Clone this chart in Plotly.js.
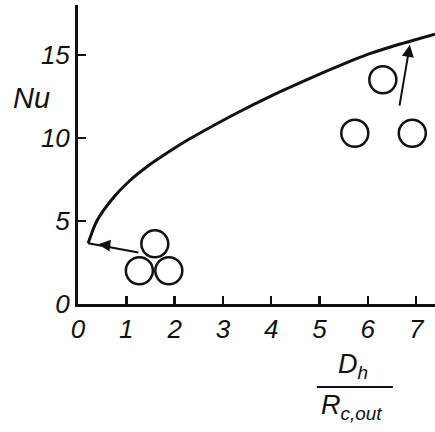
<!DOCTYPE html>
<html>
<head>
<meta charset="utf-8">
<script src="https://cdn.plot.ly/plotly-3.0.1.min.js"></script>
<style>
  html, body { margin: 0; padding: 0; background: #fff; }
  #chart { width: 435px; height: 432px; }
</style>
</head>
<body>
<div id="chart"></div>
<script>
// curve Nu vs Dh/Rc,out
const curveX = [0.21, 0.39, 0.73, 1.08, 1.42, 1.77, 2.2, 2.59, 3.29, 3.98, 4.66, 5.29, 5.97, 6.67, 7.39];
const curveY = [3.66, 5.0, 6.4, 7.45, 8.25, 8.95, 9.75, 10.4, 11.5, 12.5, 13.4, 14.2, 15.0, 15.65, 16.25];

// rod bundle sketches drawn as open circles
const triX = [1.59, 1.27, 1.88];
const triY = [3.62, 2.0, 2.0];
const rowX = [6.31, 5.73, 6.92];
const rowY = [13.5, 10.28, 10.28];

// arrow from the triangle bundle to the curve start
const arrow1X = [1.25, 0.21];
const arrow1Y = [3.1, 3.66];

const xTicks = [0, 1, 2, 3, 4, 5, 6, 7];
const yTicks = [0, 5, 10, 15];

const font = { family: "Liberation Sans, Arial, sans-serif", color: "#111", style: "italic" };

const circle = (x, y) => ({
  type: "scatter",
  mode: "markers",
  x, y,
  marker: { symbol: "circle-open", size: 27, color: "#111", line: { width: 2.5, color: "#111" } },
  hoverinfo: "skip"
});

const traces = [
  {
    type: "scatter",
    mode: "lines",
    x: curveX,
    y: curveY,
    line: { color: "#111", width: 3, shape: "spline", smoothing: 0.8 }
  },
  {
    type: "scatter",
    mode: "lines",
    x: arrow1X,
    y: arrow1Y,
    line: { color: "#111", width: 2 }
  },
  circle(triX, triY),
  circle(rowX, rowY)
];

const layout = {
  width: 435,
  height: 432,
  margin: { l: 78, r: 0, t: 5, b: 128 },
  paper_bgcolor: "#fff",
  plot_bgcolor: "#fff",
  showlegend: false,
  xaxis: {
    range: [0, 7.39],
    tickvals: xTicks,
    ticktext: xTicks.map(String),
    ticks: "inside",
    ticklen: 8,
    tickwidth: 2.5,
    tickcolor: "#111",
    showline: true,
    linewidth: 3,
    linecolor: "#111",
    showgrid: false,
    zeroline: false,
    tickfont: { ...font, size: 26 }
  },
  yaxis: {
    range: [0, 18],
    tickvals: yTicks,
    ticktext: yTicks.map(String),
    ticks: "inside",
    ticklen: 8,
    tickwidth: 2.5,
    tickcolor: "#111",
    showline: true,
    linewidth: 3,
    linecolor: "#111",
    showgrid: false,
    zeroline: false,
    tickfont: { ...font, size: 26 }
  },
  annotations: [
    {
      x: 6.87, y: 15.6, ax: 6.65, ay: 11.85,
      xref: "x", yref: "y", axref: "x", ayref: "y",
      text: "", showarrow: true, arrowhead: 2, arrowsize: 1.2, arrowwidth: 2, arrowcolor: "#111"
    },
    {
      x: 0.42, y: 3.6, ax: 0.7, ay: 3.5,
      xref: "x", yref: "y", axref: "x", ayref: "y",
      text: "", showarrow: true, arrowhead: 2, arrowsize: 1.2, arrowwidth: 2, arrowcolor: "#111"
    },
    {
      x: -0.129, y: 0.689, xref: "paper", yref: "paper",
      xanchor: "center", yanchor: "middle",
      text: "Nu", showarrow: false, font: { ...font, size: 29 }
    },
    {
      x: 0.77, y: -0.207, xref: "paper", yref: "paper",
      xanchor: "center", yanchor: "middle",
      text: "D<sub>h</sub>", showarrow: false, font: { ...font, size: 27 }
    },
    {
      x: 0.765, y: -0.345, xref: "paper", yref: "paper",
      xanchor: "center", yanchor: "middle",
      text: "R<sub>c,out</sub>", showarrow: false, font: { ...font, size: 27 }
    }
  ],
  shapes: [
    {
      type: "line", xref: "paper", yref: "paper",
      x0: 0.669, x1: 0.882, y0: -0.278, y1: -0.278,
      line: { color: "#111", width: 2 }
    }
  ]
};

Plotly.newPlot("chart", traces, layout, { displayModeBar: false, staticPlot: true });
</script>
</body>
</html>
